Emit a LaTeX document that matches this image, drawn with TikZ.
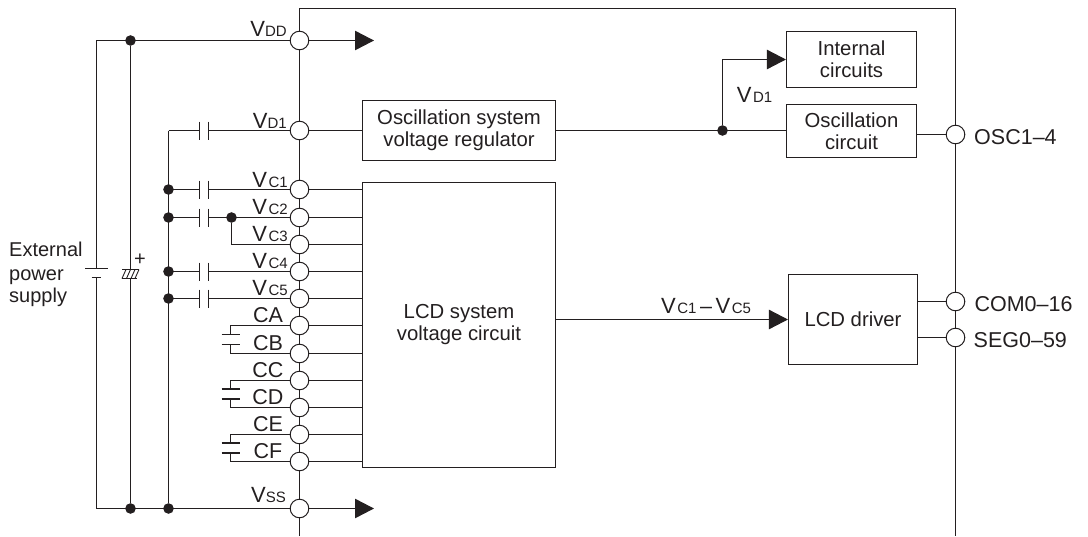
\documentclass[tikz,border=0pt]{standalone}
\usepackage{fontspec}
\setmainfont{Liberation Sans}
\usetikzlibrary{arrows.meta}
\usetikzlibrary{calc}
\usetikzlibrary{positioning}

\definecolor{inkdark}{HTML}{231F20}
\newcommand{\pinname}[2]{{\fontsize{22}{22}\selectfont V}\hspace{#1}{\fontsize{15}{15}\selectfont #2}}

\tikzset{
  wire/.style={line width=1.1pt,draw=inkdark},
  block/.style={draw=inkdark,line width=1.1pt,fill=white,align=center,inner sep=0pt,font=\fontsize{20.3}{22}\selectfont,text=inkdark},
  pin/.style={circle,draw=inkdark,line width=1pt,fill=white,minimum size=18.6pt,inner sep=0pt},
  junction/.style={circle,fill=inkdark,minimum size=10.6pt,inner sep=0pt},
  lbl/.style={inner sep=0pt,text=inkdark,font=\fontsize{21.5}{22}\selectfont},
  powerarrow/.style={wire,-{Triangle[length=19pt,width=19.4pt]}}
}

\begin{document}
\begin{tikzpicture}[x=1pt,y=-1pt]

    \useasboundingbox (0,0) rectangle (1088,536);

    % chip outline
    \draw [wire] (299.5,536) -- (299.5,8.5) -- (955.5,8.5) -- (955.5,536);

    % blocks
    \node [block,minimum width=193pt,minimum height=60pt] (regulator) at (459,130.5) {Oscillation system\\voltage regulator};
    \node [block,minimum width=193pt,minimum height=285pt] (lcdcircuit) at (459,325) {LCD system\\voltage circuit};
    \node [block,minimum width=130pt,minimum height=56pt] (internal) at (851.5,59.5) {Internal\\circuits};
    \node [block,minimum width=130pt,minimum height=53pt] (oscillation) at (851.5,131) {Oscillation\\circuit};
    \node [block,minimum width=129pt,minimum height=90pt] (lcddriver) at (853,319.5) {LCD driver};

    % pins on the left side
    \foreach \name/\y in {vdd/40.5,vdone/130.5,vcone/189.5,vctwo/217.5,vcthree/244.5,vcfour/271.5,vcfive/298.5,
                          ca/325.5,cb/353.5,cc/380.5,cd/407.5,ce/434.5,cf/461.5,vss/508.5} {
      \node [pin] (\name) at (299.5,\y) {};
    }

    % pins on the right side
    \node [pin] (osc) at (955.5,134.5) {};
    \node [pin] (com) at (955.5,301.5) {};
    \node [pin] (seg) at (955.5,337.5) {};

    % pins to the voltage circuit
    \foreach \name in {vcone,vctwo,vcthree,vcfour,vcfive,ca,cb,cc,cd,ce,cf} {
      \draw [wire] (\name) -- (\name -| lcdcircuit.west);
    }

    % pin labels
    \node [lbl,anchor=base east] at (287,36) {\pinname{0pt}{DD}};
    \node [lbl,anchor=base east] at (287,128) {\pinname{0pt}{D1}};
    \foreach \txt/\y in {C1/187,C2/214,C3/241,C4/268.3,C5/295} {
      \node [lbl,anchor=base east] at (288,\y) {\pinname{1.5pt}{\txt}};
    }
    \node [lbl,anchor=base east] at (286,502.7) {\pinname{0pt}{SS}};
    \foreach \txt/\y in {CA/322.7,CB/350,CC/377,CD/404,CE/431.3,CF/458.7} {
      \node [lbl,anchor=base] at (268,\y) {\txt};
    }
    \node [lbl,anchor=base west] at (974,144) {OSC1–4};
    \node [lbl,anchor=base west] at (974.3,311) {COM0–16};
    \node [lbl,anchor=base west] at (973.5,347.7) {SEG0–59};
    \node [lbl,anchor=base west] at (9,256.7) {\fontsize{20}{22}\selectfont External};
    \node [lbl,anchor=base west] at (9,280) {\fontsize{20}{22}\selectfont power};
    \node [lbl,anchor=base west] at (9,302) {\fontsize{20}{22}\selectfont supply};

    % power rails
    \coordinate (batttop) at (96.5,40.5);
    \coordinate (battbot) at (96.5,508.5);
    \coordinate (platetop) at (96.5,268.5);
    \coordinate (platebot) at (96.5,277.5);
    \node [junction] (railtop) at (130.5,40.5) {};
    \node [junction] (railbot) at (130.5,508.5) {};
    \node [junction] (busbot) at (168.5,508.5) {};
    \draw [wire] (vdd) -- (batttop) -- (platetop);
    \draw [wire] (platebot) -- (battbot) -- (vss);
    \draw [wire] (85,268.5) -- (107.7,268.5);
    \draw [wire] (91.7,277.5) -- (100.7,277.5);
    \draw [wire] (railtop) -- (railbot);

    % smoothing capacitor
    \fill [white] (122,269) rectangle (139,278);
    \draw [wire,line width=1pt] (122,269.5) -- (139,269.5);
    \draw [wire,line width=1pt] (121.7,278.5) -- (137,278.5);
    \foreach \x in {122,126.5,131,135} {
      \draw [line width=0.9pt,inkdark] (\x,278.5) -- (\x+4,269.5);
    }
    \node [lbl,font=\fontsize{20}{20}\selectfont] at (140,260) {+};

    \coordinate (arrowvdd) at (374,40.5);
    \coordinate (arrowvss) at (374,508.5);
    \draw [powerarrow] (vdd) -- (arrowvdd);
    \draw [powerarrow] (vss) -- (arrowvss);

    % capacitors to the bus
    \coordinate (bustop) at (168.5,130.5);
    \draw [wire] (vdone -| bustop) -- (busbot);
    \foreach \name in {vcone,vctwo,vcfour,vcfive} {
      \node [junction] (dot\name) at (\name -| bustop) {};
    }
    \foreach \name in {vdone,vcone,vctwo,vcfour,vcfive} {
      \coordinate (capl) at (199.5,0 |- \name);
      \coordinate (capr) at (208.5,0 |- \name);
      \draw [wire] (\name -| bustop) -- (capl);
      \draw [wire] (capr) -- (\name);
      \draw [wire] ($(capl)+(0,-9)$) -- ($(capl)+(0,9)$);
      \draw [wire] ($(capr)+(0,-9)$) -- ($(capr)+(0,9)$);
    }
    \node [junction] (dotlink) at (231.5,217.5) {};
    \draw [wire] (dotlink) |- (vcthree);

    % flying capacitors
    \foreach \upper/\lower in {ca/cb,cc/cd,ce/cf} {
      \coordinate (mid) at ($(\upper)!0.5!(\lower)$);
      \coordinate (flyup) at (230.5,0 |- \upper);
      \coordinate (flylow) at (230.5,0 |- \lower);
      \coordinate (plateup) at ($(230.5,0 |- mid)+(0,-5)$);
      \coordinate (platelow) at ($(230.5,0 |- mid)+(0,5)$);
      \draw [wire] (\upper) -- (flyup) -- (plateup);
      \draw [wire] (\lower) -- (flylow) -- (platelow);
      \draw [wire] ($(plateup)+(-9,0)$) -- ($(plateup)+(9,0)$);
      \draw [wire] ($(platelow)+(-9,0)$) -- ($(platelow)+(9,0)$);
    }

    % internal supply
    \draw [wire] (vdone) -- (regulator);
    \draw [wire] (regulator.east) -- (regulator.east -| oscillation.west);
    \node [junction] (dotvdone) at (722.5,130.5) {};
    \draw [powerarrow] (dotvdone) |- (internal.west);
    \node [lbl,anchor=base west] at (736.7,102.7) {\pinname{1.5pt}{D1}};
    \draw [wire] (oscillation.east |- osc) -- (osc);

    % LCD path
    \draw [powerarrow] (lcdcircuit.east |- lcddriver.west) -- (lcddriver.west);
    \node [lbl,anchor=base west] at (661,313) {\pinname{1.5pt}{C1}\,–\,\pinname{1.5pt}{C5}};
    \draw [wire] (lcddriver.east |- com) -- (com);
    \draw [wire] (lcddriver.east |- seg) -- (seg);

\end{tikzpicture}
\end{document}
